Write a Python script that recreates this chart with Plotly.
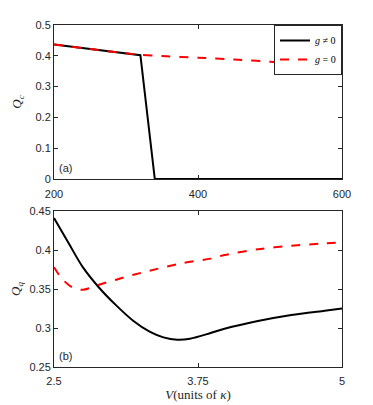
import plotly.graph_objects as go

# Panel (a)
a_x_black = [200, 320, 340, 600]
a_y_black = [0.437, 0.402, 0.0, 0.0]
a_x_red = [200, 250, 300, 320, 350, 400, 450, 500, 550, 600]
a_y_red = [0.437, 0.422, 0.408, 0.403, 0.399, 0.394, 0.388, 0.381, 0.374, 0.367]

# Panel (b)
b_x_black = [2.5, 2.63, 2.75, 2.89, 3.04, 3.19, 3.33, 3.45, 3.57, 3.68, 3.86, 3.98, 4.27, 4.56, 4.85, 5.0]
b_y_black = [0.441, 0.408, 0.378, 0.352, 0.329, 0.309, 0.2953, 0.288, 0.285, 0.2863, 0.2936, 0.299, 0.309, 0.3167, 0.3222, 0.325]
b_x_red = [2.5, 2.57, 2.66, 2.75, 2.89, 3.04, 3.19, 3.33, 3.62, 3.86, 3.98, 4.27, 4.56, 4.85, 5.0]
b_y_red = [0.378, 0.363, 0.352, 0.349, 0.3555, 0.362, 0.3683, 0.3735, 0.3833, 0.389, 0.3936, 0.401, 0.4055, 0.4085, 0.41]

x_ticks_a = [200, 400, 600]
y_ticks_a = [0, 0.1, 0.2, 0.3, 0.4, 0.5]
y_ticklabels_a = ["0", "0.1", "0.2", "0.3", "0.4", "0.5"]
x_ticks_b = [2.5, 3.75, 5]
x_ticklabels_b = ["2.5", "3.75", "5"]
y_ticks_b = [0.25, 0.3, 0.35, 0.4, 0.45]
y_ticklabels_b = ["0.25", "0.3", "0.35", "0.4", "0.45"]

BLACK = "#000000"
RED = "#ff0000"
SERIF = "Liberation Serif, Times New Roman, serif"
SANS = "Liberation Sans, Arial, sans-serif"

fig = go.Figure()
fig.add_trace(go.Scatter(x=a_x_black, y=a_y_black, mode="lines", name="<i>g</i> ≠ 0",
                         line=dict(color=BLACK, width=2), xaxis="x", yaxis="y"))
fig.add_trace(go.Scatter(x=a_x_red, y=a_y_red, mode="lines", name="<i>g</i> = 0",
                         line=dict(color=RED, width=2, dash="dash", shape="spline", smoothing=0.6),
                         xaxis="x", yaxis="y"))
fig.add_trace(go.Scatter(x=b_x_black, y=b_y_black, mode="lines", showlegend=False,
                         line=dict(color=BLACK, width=2, shape="spline", smoothing=0.8), xaxis="x2", yaxis="y2"))
fig.add_trace(go.Scatter(x=b_x_red, y=b_y_red, mode="lines", showlegend=False,
                         line=dict(color=RED, width=2, dash="dash", shape="spline", smoothing=0.8),
                         xaxis="x2", yaxis="y2"))

axis_common = dict(showline=True, mirror="ticks", linecolor="#262626", linewidth=1,
                   ticks="inside", ticklen=4, tickcolor="#262626", showgrid=False, zeroline=False,
                   automargin=False,
                   tickfont=dict(family=SANS, size=11, color="#262626"))

fig.update_layout(
    width=365, height=397,
    margin=dict(l=46, r=31, t=17, b=38),
    plot_bgcolor="white", paper_bgcolor="white",
    xaxis=dict(domain=[0, 1], anchor="y", range=[200, 600], tickvals=x_ticks_a,
               ticktext=[str(v) for v in x_ticks_a], ticklabelstandoff=5, **axis_common),
    yaxis=dict(domain=[0.5497, 1], anchor="x", range=[0, 0.5], tickvals=y_ticks_a,
               ticktext=y_ticklabels_a,
               title=dict(text="<i>Q</i><sub><i>c</i></sub>", standoff=10,
                          font=dict(family=SERIF, size=13, color="#262626")),
               **axis_common),
    xaxis2=dict(domain=[0, 1], anchor="y2", range=[2.5, 5], tickvals=x_ticks_b, ticktext=x_ticklabels_b,
                ticklabelstandoff=4,
                title=dict(text="<i>V</i>(units of <i>κ</i>)", standoff=0,
                           font=dict(family=SERIF, size=13, color="#262626")),
                **axis_common),
    yaxis2=dict(domain=[0, 0.456], anchor="x2", range=[0.25, 0.45], tickvals=y_ticks_b,
                ticktext=y_ticklabels_b,
                title=dict(text="<i>Q</i><sub><i>q</i></sub>", standoff=8,
                           font=dict(family=SERIF, size=13, color="#262626")),
                **axis_common),
    legend=dict(x=1, y=1, xanchor="right", yanchor="top", bgcolor="white",
                bordercolor="#262626", borderwidth=1,
                font=dict(family=SERIF, size=10, color="#000000"),
                tracegroupgap=0, itemwidth=30),
    showlegend=True,
    annotations=[
        dict(text="(a)", x=0.01, y=0.5497, xref="paper", yref="paper", xanchor="left", yanchor="bottom",
             yshift=3, showarrow=False, font=dict(family=SANS, size=11, color="#262626")),
        dict(text="(b)", x=0.01, y=0.0, xref="paper", yref="paper", xanchor="left", yanchor="bottom",
             yshift=3, showarrow=False, font=dict(family=SANS, size=11, color="#262626")),
    ],
)

fig.write_html("out.html")
